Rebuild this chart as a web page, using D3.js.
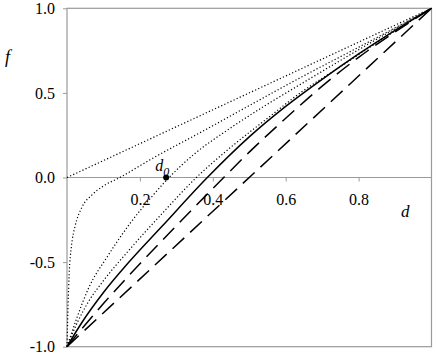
<!DOCTYPE html>
<html>
<head>
<meta charset="utf-8">
<script src="https://cdn.jsdelivr.net/npm/d3@7"></script>
<style>
  html, body { margin: 0; padding: 0; background: #fff; }
  svg { display: block; }
  svg text { font-family: "Liberation Serif", "DejaVu Serif" !important; fill: #000; }
</style>
</head>
<body>
<svg id="chart" width="436" height="360"></svg>
<script>
// ---- data ----
const xTicks = [0.2, 0.4, 0.6, 0.8];
const yTicks = [-1.0, -0.5, 0.0, 0.5, 1.0];
const d0 = 0.272;

// dotted A : f = d
const dA = [0, 1];
const fA = [0, 1];
// dotted B
const dB = [0, 0.003, 0.006, 0.012, 0.022, 0.04, 0.07, 0.1, 0.145, 0.228, 0.378, 0.5, 0.64, 0.8, 1];
const fB = [-1, -0.75, -0.57, -0.41, -0.29, -0.18, -0.1, -0.05, 0, 0.105, 0.28, 0.425, 0.59, 0.77, 1];
// dotted C
const dC = [0, 0.027, 0.06, 0.11, 0.17, 0.23, 0.28, 0.35, 0.44, 0.54, 0.64, 0.8, 1];
const fC = [-1, -0.83, -0.65, -0.47, -0.28, -0.12, 0, 0.14, 0.28, 0.42, 0.55, 0.755, 1];
// dotted D
const dD = [0, 0.03, 0.06, 0.1, 0.17, 0.26, 0.355, 0.45, 0.55, 0.64, 0.75, 0.87, 1];
const fD = [-1, -0.85, -0.73, -0.61, -0.43, -0.215, 0, 0.18, 0.35, 0.5, 0.655, 0.825, 1];
// solid
const dS = [0, 0.04, 0.1, 0.17, 0.26, 0.385, 0.5, 0.6, 0.7, 0.8, 0.9, 1];
const fS = [-1, -0.86, -0.68, -0.5, -0.29, 0, 0.24, 0.42, 0.58, 0.73, 0.87, 1];
// dashed E
const dE = [0, 0.05, 0.1, 0.2, 0.3, 0.4, 0.43, 0.5, 0.6, 0.7, 0.8, 0.9, 1];
const fE = [-1, -0.87, -0.745, -0.51, -0.285, -0.065, 0, 0.15, 0.35, 0.54, 0.71, 0.86, 1];
// dashed F : f = 2d - 1
const dF = [0, 1];
const fF = [-1, 1];

const series = [
  { d: dA, f: fA, style: "dotted" },
  { d: dB, f: fB, style: "dotted" },
  { d: dC, f: fC, style: "dotted" },
  { d: dD, f: fD, style: "dotted" },
  { d: dS, f: fS, style: "solid" },
  { d: dE, f: fE, style: "dashed" },
  { d: dF, f: fF, style: "dashed" }
];

// ---- layout ----
const svg = d3.select("#chart");
const mLeft = 67, mRight = 431.5, mTop = 8.3, mBottom = 346.7;
const x = d3.scaleLinear().domain([0, 1]).range([mLeft, mRight]);
const y = d3.scaleLinear().domain([-1, 1]).range([mBottom, mTop]);
const grey = "#9a9a9a";
const serif = "Liberation Serif";

// frame
svg.append("rect")
  .attr("x", mLeft).attr("y", mTop)
  .attr("width", mRight - mLeft).attr("height", mBottom - mTop)
  .attr("fill", "none").attr("stroke", grey).attr("stroke-width", 1.2);

// y axis
const yAxis = svg.append("g")
  .attr("transform", `translate(${mLeft},0)`)
  .call(d3.axisLeft(y).tickValues(yTicks).tickSize(4).tickPadding(8)
        .tickFormat(v => v.toFixed(1)));
yAxis.attr("font-family", serif).attr("font-size", 16);
yAxis.select(".domain").remove();
yAxis.selectAll(".tick line").attr("stroke", grey);
yAxis.selectAll(".tick text").attr("fill", "#000");

// x axis at f = 0
const xAxis = svg.append("g")
  .attr("transform", `translate(0,${y(0)})`)
  .call(d3.axisBottom(x).tickValues(xTicks).tickSize(4).tickPadding(12)
        .tickFormat(v => v.toFixed(1)));
xAxis.attr("font-family", serif).attr("font-size", 16);
xAxis.select(".domain").remove();
xAxis.selectAll(".tick line").attr("stroke", grey);
xAxis.selectAll(".tick text").attr("fill", "#000");
svg.append("line")
  .attr("x1", x(0)).attr("x2", x(1))
  .attr("y1", y(0)).attr("y2", y(0))
  .attr("stroke", grey).attr("stroke-width", 1.2);

// curves
const line = d3.line()
  .x(p => x(p[0])).y(p => y(p[1]))
  .curve(d3.curveMonotoneX);

series.forEach(s => {
  const pts = s.d.map((d, i) => [d, s.f[i]]);
  const path = svg.append("path")
    .attr("d", line(pts))
    .attr("fill", "none")
    .attr("stroke", "#000");
  if (s.style === "dotted") {
    path.attr("stroke-width", 1.2).attr("stroke-dasharray", "1.2,2.2");
  } else if (s.style === "dashed") {
    path.attr("stroke-width", 1.5).attr("stroke-dasharray", "16,8");
  } else {
    path.attr("stroke-width", 1.5);
  }
});

// d0 marker
svg.append("circle")
  .attr("cx", x(d0)).attr("cy", y(0)).attr("r", 3)
  .attr("fill", "#000");
const d0lab = svg.append("text")
  .attr("x", x(d0) - 11).attr("y", y(0) - 7)
  .attr("font-family", serif)
  .style("font-size", "16px").style("font-style", "italic");
d0lab.append("tspan").text("d");
d0lab.append("tspan").attr("dy", 5).style("font-size", "12px").text("0");

// axis titles
svg.append("text").attr("x", 5).attr("y", 63).attr("font-family", serif)
  .style("font-size", "18px").style("font-style", "italic").text("f");
svg.append("text").attr("x", 401).attr("y", 216.5).attr("font-family", serif)
  .style("font-size", "17px").style("font-style", "italic").text("d");
</script>
</body>
</html>
